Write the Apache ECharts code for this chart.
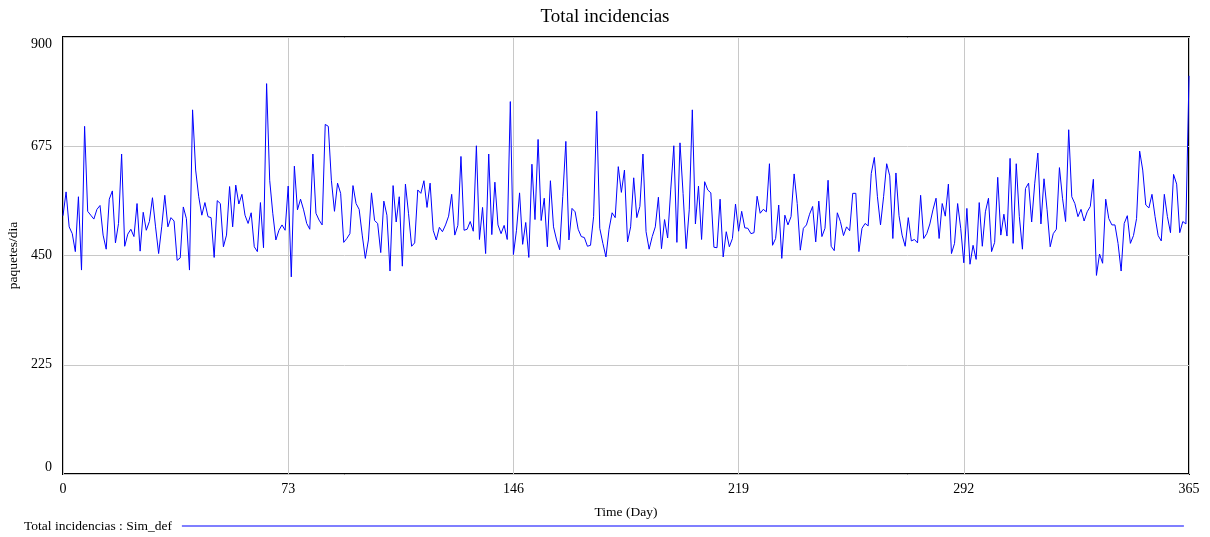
<!DOCTYPE html>
<html>
<head>
<meta charset="utf-8">
<script src="https://cdn.jsdelivr.net/npm/echarts@6/dist/echarts.min.js"></script>
<style>
  html, body { margin: 0; padding: 0; background: #fff; }
  #chart { width: 1210px; height: 537px; }
</style>
</head>
<body>
<div id="chart"></div>
<script>
// Total incidencias, paquetes/dia por dia (0..365)
const incidencias = [
  532, 581, 509, 495, 458, 571, 420, 716, 541, 533, 525, 545, 553, 492, 463, 566, 583, 476, 516, 659,
  469, 494, 504, 489, 557, 459, 539, 502, 520, 569, 509, 454, 509, 574, 509, 528, 521,
  440, 445, 550, 526, 420, 750, 626, 571, 533, 559, 530, 528, 446, 563, 557, 468, 492, 592, 509,
  595, 556, 576, 533, 516, 538, 468, 458, 559, 466, 804, 605, 537, 482, 502, 513, 502,
  593, 406, 634, 544, 566, 544, 516, 504, 659, 537, 523, 513, 720, 716, 605, 541, 599, 578,
  477, 485, 495, 594, 557, 545, 492, 444, 482, 579, 522, 516, 456, 562, 533, 418, 594, 519,
  571, 428, 597, 537, 469, 476, 585, 578, 604, 549, 599, 502, 482, 508, 499, 513, 531, 576,
  492, 512, 654, 502, 504, 520, 500, 676, 483, 549, 454, 659, 493, 601, 513, 495, 512, 483,
  767, 452, 502, 579, 473, 518, 446, 638, 524, 689, 522, 568, 468, 604, 509, 482, 462, 571,
  685, 482, 547, 540, 504, 489, 487, 469, 471, 530, 747, 506, 475, 447, 504, 538, 528, 633,
  580, 626, 478, 509, 610, 528, 551, 659, 499, 463, 489, 509, 570, 464, 524, 486, 585, 676,
  477, 682, 578, 464, 544, 750, 515, 593, 483, 602, 585, 579, 467, 466, 566, 447, 499, 468, 485,
  556, 500, 541, 507, 506, 495, 497, 572, 537, 545, 540, 639, 471, 485, 554, 444, 533, 513,
  530, 618, 557, 461, 506, 513, 535, 551, 478, 562, 489, 506, 605, 469, 460, 538, 520, 491,
  509, 501, 578, 578, 458, 506, 516, 511, 619, 652, 571, 513, 571, 639, 614, 485, 620, 532,
  492, 469, 528, 480, 483, 476, 574, 485, 495, 515, 544, 568, 485, 557, 531, 597, 454, 475,
  557, 506, 435, 547, 432, 471, 442, 559, 469, 540, 568, 458, 477, 611, 492, 535, 490, 650,
  475, 639, 530, 463, 588, 599, 519, 599, 661, 515, 608, 544, 468, 495, 504, 631, 568, 520,
  709, 571, 557, 530, 545, 521, 540, 551, 607, 409, 453, 434, 566, 526, 513, 513, 475, 418,
  516, 532, 475, 491, 526, 665, 626, 554, 548, 576, 530, 491, 480, 576, 530, 497, 617, 597,
  497, 520, 515, 820
]
const days = incidencias.map((v, i) => i)
const xTicks = [0, 73, 146, 219, 292, 365]
const yTicks = [0, 225, 450, 675, 900]

const font = "'Liberation Serif', 'Times New Roman', serif"
const chart = echarts.init(document.getElementById('chart'))

chart.setOption({
  animation: false,
  textStyle: { fontFamily: font },
  title: {
    text: 'Total incidencias', left: 'center', top: 3,
    textStyle: { fontFamily: font, fontSize: 19, fontWeight: 'normal', color: '#000' }
  },
  legend: {
    left: 19, top: 514, align: 'right', icon: 'rect',
    itemWidth: 1002, itemHeight: 1,
    itemStyle: { color: '#0000ff', borderWidth: 0 },
    lineStyle: { color: '#0000ff', width: 1 },
    textStyle: { fontFamily: font, fontSize: 13.5, color: '#000', padding: [0, 5, 0, 0] },
    data: ['Total incidencias : Sim_def']
  },
  grid: {
    left: 63, right: 21, top: 37, bottom: 63,
    outerBoundsMode: 'none', containLabel: false,
    show: true, borderColor: '#000', borderWidth: 2
  },
  xAxis: {
    type: 'value', min: 0, max: 365, interval: 73,
    name: 'Time (Day)', nameLocation: 'middle', nameGap: 31,
    nameTextStyle: { fontFamily: font, fontSize: 13.5, color: '#000' },
    axisLine: { show: false }, axisTick: { show: false },
    axisLabel: { fontFamily: font, fontSize: 14, color: '#000', margin: 8,
      formatter: (v) => xTicks.includes(v) ? String(v) : '' },
    splitLine: { show: true, lineStyle: { color: '#c8c8c8', width: 1 } }
  },
  yAxis: {
    type: 'value', min: 0, max: 900, interval: 225,
    name: 'paquetes/dia', nameLocation: 'middle', nameGap: 41,
    nameTextStyle: { fontFamily: font, fontSize: 13.5, color: '#000' },
    axisLine: { show: false }, axisTick: { show: false },
    axisLabel: { fontFamily: font, fontSize: 14, color: '#000', margin: 11,
      verticalAlignMinLabel: 'bottom', verticalAlignMaxLabel: 'top',
      formatter: (v) => yTicks.includes(v) ? String(v) : '' },
    splitLine: { show: true, lineStyle: { color: '#c8c8c8', width: 1 } }
  },
  series: [{
    name: 'Total incidencias : Sim_def',
    type: 'line',
    data: days.map((d, i) => [d, incidencias[i]]),
    showSymbol: false,
    symbol: 'none',
    lineStyle: { color: '#0000ff', width: 1 },
    itemStyle: { color: '#0000ff' }
  }]
})
</script>
</body>
</html>
